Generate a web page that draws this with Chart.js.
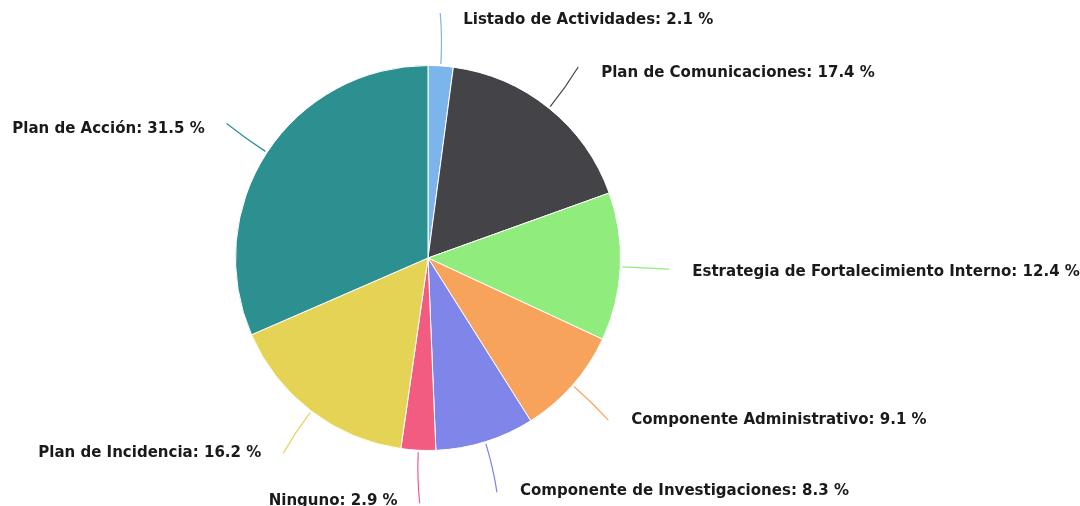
<!DOCTYPE html>
<html lang="es">
<head>
    <meta charset="UTF-8">
    <title>Distribución</title>
    <script src="https://cdn.jsdelivr.net/npm/chart.js"></script>
    <style>
        body {
            margin: 0;
            background-color: #ffffff;
        }
        .chart-box {
            width: 1080px;
            height: 506px;
        }
    </style>
</head>
<body>
    <div class="chart-box">
        <canvas id="pieChart" width="1080" height="506"></canvas>
    </div>

    <script>
        const categorias = [
            'Listado de Actividades',
            'Plan de Comunicaciones',
            'Estrategia de Fortalecimiento Interno',
            'Componente Administrativo',
            'Componente de Investigaciones',
            'Ninguno',
            'Plan de Incidencia',
            'Plan de Acción'
        ];
        const porcentajes = [2.1, 17.4, 12.4, 9.1, 8.3, 2.9, 16.2, 31.5];
        const colores = ['#7cb5ec', '#434348', '#90ed7d', '#f7a35c', '#8085e9', '#f15c80', '#e4d354', '#2b908f'];

        // etiquetas con conectores al estilo de la imagen
        const etiquetasPlugin = {
            id: 'etiquetas',
            afterDraw(chart) {
                const ctx = chart.ctx;
                const meta = chart.getDatasetMeta(0);
                ctx.save();
                ctx.font = 'bold 16.7px "DejaVu Sans Condensed", "DejaVu Sans"';
                ctx.textBaseline = 'middle';
                meta.data.forEach((arc, i) => {
                    const a = (arc.startAngle + arc.endAngle) / 2;
                    const r = arc.outerRadius;
                    const cx = arc.x, cy = arc.y;
                    const dist = 53;
                    const x0 = cx + (r + 2) * Math.cos(a), y0 = cy + (r + 2) * Math.sin(a);
                    const xm = cx + (r + dist * 0.5) * Math.cos(a), ym = cy + (r + dist * 0.5) * Math.sin(a);
                    const x1 = cx + (r + dist) * Math.cos(a), y1 = cy + (r + dist) * Math.sin(a);
                    const derecha = Math.cos(a) >= 0;
                    const xe = x1 + (derecha ? -4 : 4);

                    ctx.strokeStyle = colores[i];
                    ctx.lineWidth = 1.2;
                    ctx.beginPath();
                    ctx.moveTo(x0, y0);
                    ctx.quadraticCurveTo(xm, ym, xe, y1);
                    ctx.stroke();

                    const texto = categorias[i] + ': ' + porcentajes[i].toFixed(1) + ' %';
                    const ty = Math.min(y1 + 2.5 - 4.5 * Math.sin(a), chart.height - 5);
                    ctx.fillStyle = '#1a1a1a';
                    ctx.textAlign = derecha ? 'left' : 'right';
                    ctx.fillText(texto, x1 + (derecha ? 19 : -18), ty);
                });
                ctx.restore();
            }
        };

        const ctx = document.getElementById('pieChart').getContext('2d');
        new Chart(ctx, {
            type: 'pie',
            data: {
                labels: categorias,
                datasets: [{
                    data: porcentajes,
                    backgroundColor: colores,
                    borderColor: '#ffffff',
                    borderWidth: 1
                }]
            },
            options: {
                responsive: false,
                animation: false,
                layout: {
                    padding: { left: 235, right: 459, top: 65, bottom: 55 }
                },
                plugins: {
                    legend: { display: false },
                    tooltip: { enabled: false }
                }
            },
            plugins: [etiquetasPlugin]
        });
    </script>
</body>
</html>
